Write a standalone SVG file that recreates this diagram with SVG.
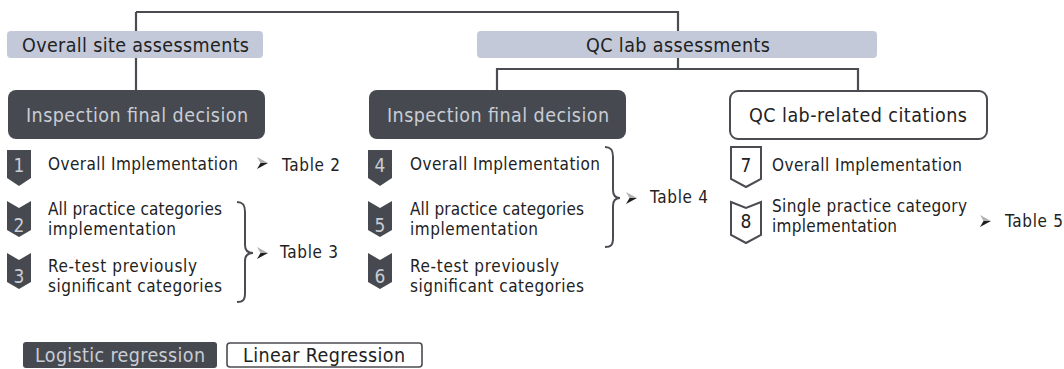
<svg xmlns="http://www.w3.org/2000/svg" width="1064" height="369" viewBox="0 0 1064 369">
<defs>
<style>
.conn{fill:none;stroke:#4a4c52;stroke-width:2.2}
.brace{fill:none;stroke:#4a4c52;stroke-width:2}
.hdr{fill:#c3c9d8}
.dark{fill:#46494f}
.out{fill:#fff;stroke:#4a4c52;stroke-width:2}
.t{font-family:"DejaVu Sans Condensed","DejaVu Sans",Verdana,sans-serif;font-stretch:condensed;fill:#222}
.lt{font-family:"DejaVu Sans Condensed","DejaVu Sans",Verdana,sans-serif;font-stretch:condensed;fill:#c9cdd6}
.h{font-size:19.5px}
.b{font-size:17px}
.n{font-size:19px;text-anchor:middle}
.ahU{fill:#b0b0b0}
.ahD{fill:#1e1e1e}
</style>
<g id="ah">
<polygon class="ahU" points="0,-6 11,0 3.5,0"/>
<polygon class="ahD" points="3.5,0 11,0 0,6"/>
</g>
</defs>
<g id="connectors">
<path class="conn" d="M136,12 H678 V31 M136,12 V90 M678,58 V69 M497,90 V69 H858 V91"/>
<path class="brace" d="M237,202 C243,202 245,205 245,212 V245 C245,250 248,253 253,253 C248,253 245,256 245,261 V293 C245,300 243,302 237,302"/>
<path class="brace" d="M605,147 C611,147 613,150 613,157 V190 C613,195 615,198 620,198 C615,198 613,201 613,206 V238 C613,245 611,247 605,247"/>
<use href="#ah" x="257" y="163"/>
<use href="#ah" x="257" y="253"/>
<use href="#ah" x="626" y="198"/>
<use href="#ah" x="980" y="221"/>
</g>
<g id="overall-site">
<rect class="hdr" x="7" y="31" width="256" height="27" rx="4"/>
<text class="t h" x="22" y="52" textLength="227">Overall site assessments</text>
</g>
<g id="qc-lab">
<rect class="hdr" x="477" y="31" width="400" height="27" rx="4"/>
<text class="t h" x="586" y="52" textLength="184">QC lab assessments</text>
</g>
<g id="ifd-1">
<rect class="dark" x="8" y="90" width="257" height="49" rx="8"/>
<text class="lt h" x="26" y="122" textLength="222">Inspection final decision</text>
</g>
<g id="ifd-2">
<rect class="dark" x="369" y="90" width="257" height="49" rx="8"/>
<text class="lt h" x="387" y="122" textLength="222">Inspection final decision</text>
</g>
<g id="qc-citations">
<rect class="out" x="730" y="91" width="257" height="48" rx="8"/>
<text class="t h" x="749" y="122" textLength="218">QC lab-related citations</text>
</g>
<g id="item1">
<path class="dark" d="M7,150 H31 V178 L19,186 L7,178 Z"/>
<text class="lt n" x="19" y="172">1</text>
<text class="t b" x="48" y="170" textLength="190">Overall Implementation</text>
</g>
<g id="table2"><text class="t b" x="282" y="171" textLength="58">Table 2</text></g>
<g id="item2">
<path class="dark" d="M7,201 L19,208 L31,201 V230 L19,237 L7,230 Z"/>
<text class="lt n" x="19" y="232">2</text>
<text class="t b" x="48" y="215" textLength="174">All practice categories</text>
<text class="t b" x="48" y="235" textLength="128">implementation</text>
</g>
<g id="item3">
<path class="dark" d="M7,253 L19,260 L31,253 V282 L19,289 L7,282 Z"/>
<text class="lt n" x="19" y="283">3</text>
<text class="t b" x="48" y="272" textLength="149">Re-test previously</text>
<text class="t b" x="48" y="292" textLength="174">significant categories</text>
</g>
<g id="table3"><text class="t b" x="280" y="258" textLength="58">Table 3</text></g>
<g id="item4">
<path class="dark" d="M368,150 H392 V178 L380,186 L368,178 Z"/>
<text class="lt n" x="380" y="172">4</text>
<text class="t b" x="410" y="170" textLength="190">Overall Implementation</text>
</g>
<g id="item5">
<path class="dark" d="M368,201 L380,208 L392,201 V230 L380,237 L368,230 Z"/>
<text class="lt n" x="380" y="232">5</text>
<text class="t b" x="410" y="215" textLength="174">All practice categories</text>
<text class="t b" x="410" y="235" textLength="128">implementation</text>
</g>
<g id="item6">
<path class="dark" d="M368,253 L380,260 L392,253 V282 L380,289 L368,282 Z"/>
<text class="lt n" x="380" y="283">6</text>
<text class="t b" x="410" y="272" textLength="149">Re-test previously</text>
<text class="t b" x="410" y="292" textLength="174">significant categories</text>
</g>
<g id="table4"><text class="t b" x="650" y="203" textLength="58">Table 4</text></g>
<g id="item7">
<path class="out" d="M731,147 H761 V179 L746,187 L731,179 Z"/>
<text class="t n" x="746" y="172">7</text>
<text class="t b" x="772" y="171" textLength="190">Overall Implementation</text>
</g>
<g id="item8">
<path class="out" d="M731,202 L746,208 L761,202 V235 L746,243 L731,235 Z"/>
<text class="t n" x="746" y="228">8</text>
<text class="t b" x="772" y="212" textLength="195">Single practice category</text>
<text class="t b" x="772" y="232" textLength="125">implementation</text>
</g>
<g id="table5"><text class="t b" x="1005" y="227" textLength="58">Table 5</text></g>
<g id="legend-logistic">
<rect class="dark" x="23" y="342" width="194" height="26" rx="3"/>
<text class="lt h" x="35" y="362" textLength="170">Logistic regression</text>
</g>
<g id="legend-linear">
<rect class="out" x="227" y="343" width="195" height="24" rx="3" style="stroke-width:1.6"/>
<text class="t h" x="243" y="362" textLength="162">Linear Regression</text>
</g>
</svg>
